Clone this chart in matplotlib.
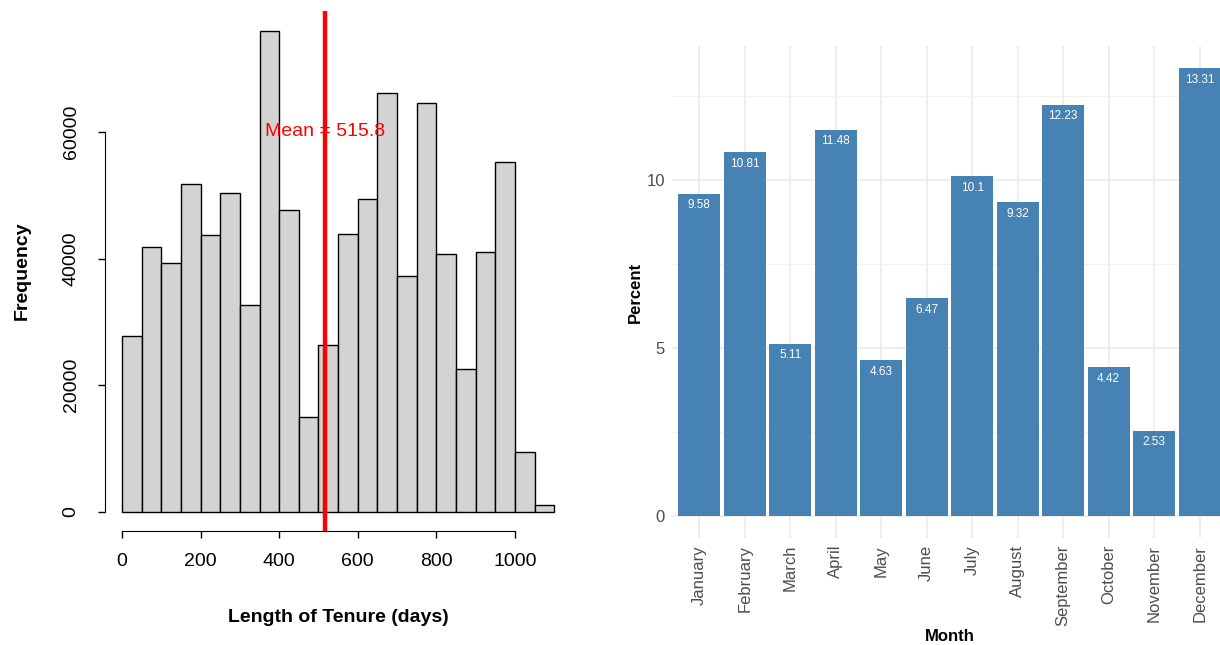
import matplotlib.pyplot as plt
import numpy as np

plt.rcParams['font.family'] = ['Liberation Sans', 'DejaVu Sans']

# left panel: histogram of tenure (bin edges + counts)
bin_edges = [0, 50, 100, 150, 200, 250, 300, 350, 400, 450, 500, 550,
             600, 650, 700, 750, 800, 850, 900, 950, 1000, 1050, 1100]
counts = [27700, 41900, 39300, 51800, 43800, 50400, 32700, 75900, 47700, 15000, 26400,
          43900, 49400, 66200, 37300, 64600, 40700, 22600, 41100, 55300, 9500, 1000]
mean_tenure = 515.8
x_ticks = [0, 200, 400, 600, 800, 1000]
y_ticks = [0, 20000, 40000, 60000]

# right panel: percent per month
months = ["January", "February", "March", "April", "May", "June", "July",
          "August", "September", "October", "November", "December"]
percents = [9.58, 10.81, 5.11, 11.48, 4.63, 6.47, 10.1, 9.32, 12.23, 4.42, 2.53, 13.31]

fig = plt.figure(figsize=(12.2, 6.45), dpi=100)

# ---- histogram (base R look)
ax1 = fig.add_axes([0.0858, 0.1767, 0.3827, 0.8056])
edges = np.array(bin_edges)
ax1.bar(edges[:-1], counts, width=np.diff(edges), align='edge',
        color='#D3D3D3', edgecolor='black', linewidth=1)
ax1.set_xlim(-44, 1144)
ax1.set_ylim(-3040, 79040)
ax1.axvline(mean_tenure, color='red', lw=3.2)
ax1.text(mean_tenure, 60000, f"Mean = {mean_tenure}", color='red', fontsize=14,
         ha='center', va='center')

for s in ['top', 'right']:
    ax1.spines[s].set_visible(False)
ax1.spines['left'].set_bounds(0, 60000)
ax1.spines['bottom'].set_bounds(0, 1000)
ax1.set_xticks(x_ticks)
ax1.set_yticks(y_ticks)
ax1.set_xticklabels([str(v) for v in x_ticks])
ax1.set_yticklabels([str(v) for v in y_ticks], rotation=90, va='center')
ax1.tick_params(axis='both', length=5, width=1, labelsize=14, pad=11)
ax1.tick_params(axis='y', pad=13)

fig.text(22 / 1220, 1 - 271 / 645, "Frequency", rotation=90, ha='center', va='center',
         fontsize=14, fontweight='bold')
fig.text(338 / 1220, 1 - 617 / 645, "Length of Tenure (days)", ha='center', va='center',
         fontsize=14, fontweight='bold')

# ---- monthly bar chart (ggplot minimal look)
ax2 = fig.add_axes([0.5508, 0.1659, 0.4549, 0.7628])
x = np.arange(1, len(months) + 1)
ax2.bar(x, percents, width=0.92, color='#4682B4', zorder=2)
for xi, v in zip(x, percents):
    ax2.annotate(f"{v:g}", (xi, v), xytext=(0, -4), textcoords='offset points',
                 ha='center', va='top', color='white', fontsize=8.5, zorder=3)

ax2.set_xlim(0.4, 12.6)
ax2.set_ylim(-0.6655, 13.9755)
ax2.set_yticks([0, 5, 10])
ax2.set_yticks([2.5, 7.5, 12.5], minor=True)
ax2.set_xticks(x)
ax2.set_xticklabels(months, rotation=90, va='top', ha='center')
ax2.grid(which='major', color='#EBEBEB', lw=1.2, zorder=0)
ax2.grid(which='minor', axis='y', color='#F2F2F2', lw=0.8, zorder=0)
ax2.set_axisbelow(True)
for s in ax2.spines.values():
    s.set_visible(False)
ax2.tick_params(axis='both', which='both', length=0, labelsize=12, labelcolor='#4D4D4D', pad=5)

ax2.set_xlabel("Month", fontsize=12, fontweight='bold')
ax2.set_ylabel("Percent", fontsize=12, fontweight='bold')
ax2.xaxis.set_label_coords(0.5, -0.185)
ax2.yaxis.set_label_coords(-0.053, 0.5)

fig.savefig("out.png", dpi=100)
